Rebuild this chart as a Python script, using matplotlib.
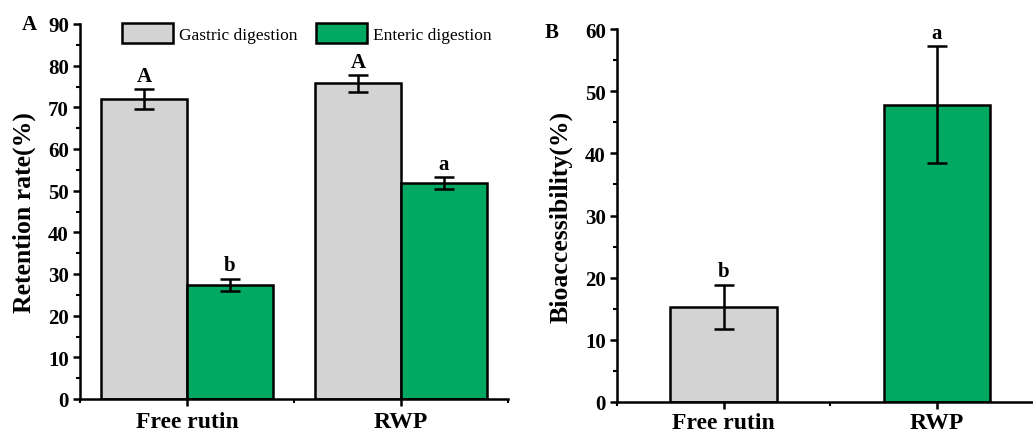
import numpy as np
import matplotlib.pyplot as plt
from matplotlib.ticker import MultipleLocator
from matplotlib.patches import Patch

plt.rcParams['font.family'] = ['Liberation Serif', 'DejaVu Serif']
plt.rcParams['font.weight'] = 'bold'

# Данные
groups = ["Free rutin", "RWP"]
gastric = [72.0, 75.8]
gastric_err = [2.3, 2.0]
enteric = [27.4, 51.8]
enteric_err = [1.5, 1.4]
letters_gastric = ["A", "A"]
letters_enteric = ["b", "a"]

bioacc = [15.3, 47.8]
bioacc_err = [3.6, 9.4]
letters_bio = ["b", "a"]

gray = "#D3D3D3"
green = "#00A862"

fig = plt.figure(figsize=(10.33, 4.35), dpi=100)
W, H = 1033, 435


def px_axes(l, t, r, b):
    return fig.add_axes([l / W, 1 - b / H, (r - l) / W, (b - t) / H])


def style_axis(ax, xpad):
    for s in ["top", "right"]:
        ax.spines[s].set_visible(False)
    for s in ["left", "bottom"]:
        ax.spines[s].set_linewidth(1.8)
    ax.tick_params(axis="both", which="major", direction="out", length=5, width=1.8,
                   labelsize=15, pad=3)
    ax.tick_params(axis="both", which="minor", direction="out", length=3, width=1.5)
    ax.tick_params(axis="x", which="major", labelsize=17, pad=xpad)
    ax.set_xticks([0, 1])
    ax.set_xticklabels(groups, fontweight="bold")
    ax.xaxis.set_minor_locator(MultipleLocator(0.5))
    for lab in ax.get_yticklabels():
        lab.set_fontweight("bold")


# Панель A
ax1 = px_axes(80, 25, 508, 400)
x = np.arange(len(groups))
w = 0.4
ebar = dict(elinewidth=1.8, capsize=7, capthick=1.8, ecolor="black")
ax1.bar(x - w / 2, gastric, w, color=gray, edgecolor="black", linewidth=1.8,
        yerr=gastric_err, error_kw=ebar, zorder=2)
ax1.bar(x + w / 2, enteric, w, color=green, edgecolor="black", linewidth=1.8,
        yerr=enteric_err, error_kw=ebar, zorder=2)
for i in range(len(groups)):
    ax1.text(x[i] - w / 2, gastric[i] + gastric_err[i] + 0.8, letters_gastric[i],
             ha="center", va="bottom", fontsize=15, fontweight="bold")
    ax1.text(x[i] + w / 2, enteric[i] + enteric_err[i] + 0.8, letters_enteric[i],
             ha="center", va="bottom", fontsize=15, fontweight="bold")
ax1.set_xlim(-0.5, 1.5)
ax1.set_ylim(0, 90)
ax1.yaxis.set_major_locator(MultipleLocator(10))
ax1.yaxis.set_minor_locator(MultipleLocator(5))
style_axis(ax1, 4)
ax1.set_ylabel("Retention rate(%)", fontsize=18.5, fontweight="bold", labelpad=9)
handles = [Patch(facecolor=gray, edgecolor="black", linewidth=1.8, label="Gastric digestion"),
           Patch(facecolor=green, edgecolor="black", linewidth=1.8, label="Enteric digestion")]
leg = ax1.legend(handles=handles, ncol=2, loc="upper center", bbox_to_anchor=(0.53, 1.045),
                 frameon=False, handlelength=2.9, handleheight=1.45, handletextpad=0.35,
                 columnspacing=1.1, prop={"family": "Liberation Serif", "size": 12.5, "weight": "normal"})
fig.text(22 / W, 1 - 25 / H, "A", fontsize=15, fontweight="bold", ha="left", va="center")

# Панель B
ax2 = px_axes(617, 30, 1033, 403)
ax2.bar(x, bioacc, 0.5, color=[gray, green], edgecolor="black", linewidth=1.8,
        yerr=bioacc_err, error_kw=ebar, zorder=2)
for i in range(len(groups)):
    ax2.text(x[i], bioacc[i] + bioacc_err[i] + 0.6, letters_bio[i],
             ha="center", va="bottom", fontsize=15, fontweight="bold")
ax2.set_xlim(-0.5, 1.45)
ax2.set_ylim(0, 60)
ax2.yaxis.set_major_locator(MultipleLocator(10))
ax2.yaxis.set_minor_locator(MultipleLocator(5))
style_axis(ax2, 2)
ax2.set_ylabel("Bioaccessibility(%)", fontsize=18.5, fontweight="bold", labelpad=9)
fig.text(545 / W, 1 - 33 / H, "B", fontsize=15, fontweight="bold", ha="left", va="center")

fig.savefig("out.png", dpi=100)
